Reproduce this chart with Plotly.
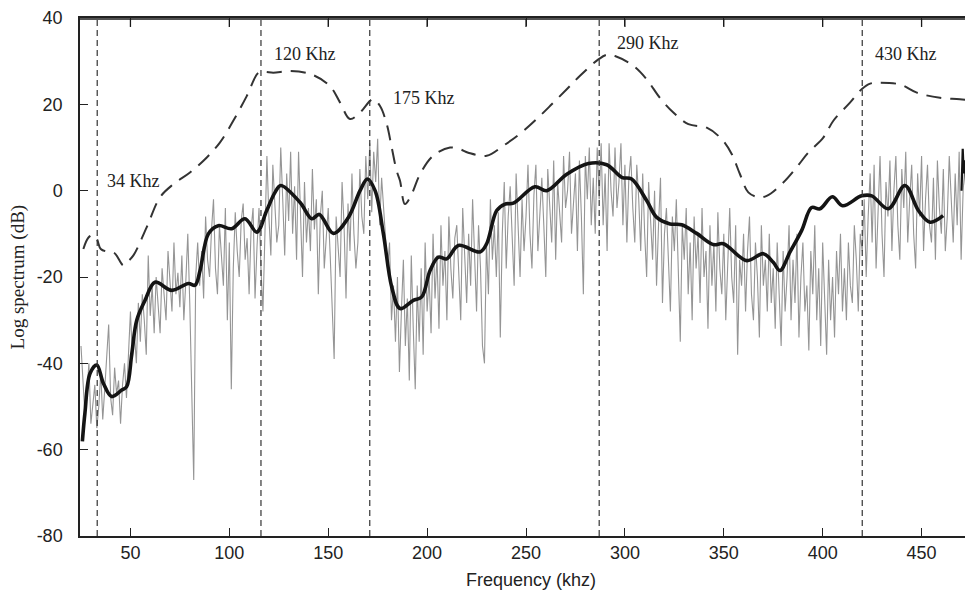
import plotly.graph_objects as go

# ---------------- data ----------------
# raw log spectrum, one value per kHz starting at 25 kHz
gray_db = [
    -36, -44, -52, -47, -40, -54, -49, -45, -55, -50,
    -42, -53, -46, -38, -31, -48, -52, -41, -47, -44,
    -54, -45, -40, -48, -36, -28, -39, -33, -40, -26,
    -35, -24, -30, -38, -15, -29, -22, -33, -20, -27,
    -33, -18, -25, -30, -14, -22, -28, -12, -24, -19,
    -27, -15, -30, -21, -10, -26, -45, -67, -20, -12,
    -22, -14, -25, -6, -16, -20, -9, -2, -18, -24,
    -8, -15, -22, -4, -30, -12, -46, -18, -5, -14,
    -20, -7, -3, -16, -11, -24, -9, -4, -25, -13,
    -4, -18, -28, -10, 8, -6, -15, 6, -3, -12,
    -8, 10, -2, -15, 4, -7, 9, -10, 1, -16,
    9, -5, -20, 2, -12, -4, -14, 5, -9, -2,
    -24, -6, 0, -18, -10, -4, -15, -28, -39, -6,
    -12, -20, 2, -8, -25, -3, -14, 4, -10, -18,
    -12, 5, -6, -10, 8, -2, 11, -5, 9, 2,
    12, -8, 3, -4, -10, -18, -12, -30, -22, -35,
    -20, -42, -28, -16, -36, -25, -44, -15, -32, -46,
    -22, -35, -18, -38, -12, -28, -20, -33, -10, -25,
    -15, -32, -8, -22, -14, -30, -6, -18, -25, -11,
    -8, -20, -30, -4, -16, -26, -10, -22, -2, -15,
    -28, -8, -18, -36, -40, -12, -24, -2, -16, -8,
    -20, -5, -34, -10, 2, -18, -6, 1, -12, -22,
    4, -8, -20, -2, -14, -6, 6, -10, -18, -1,
    6, -14, -4, 3, -8, -20, 5, -3, -12, 7,
    -16, 2, -6, -12, 8, -4, 0, 9, -10, -2,
    4, -14, 7, -6, -24, 8, -2, 10, -8, 3,
    -10, 10, -2, 11, -8, 4, -14, 11, 0, -6,
    10, -4, 2, 11, -8, 6, -12, 3, 8, -4,
    -12, 6, -2, -14, 4, -10, -20, 2, -6, -16,
    0, -22, -8, 3, -26, -10, -4, -18, -28, -6,
    -14, -2, -20, -35, -8, -16, -4, -24, -12, -30,
    -6, -18, -10, -26, -4, -20, -14, -32, -8, -22,
    -12, -28, -5, -18, -24, -10, -30, -14, -4, -20,
    -26, -8, -38, -16, -22, -10, -28, -14, -6, -24,
    -30, -12, -20, -34, -8, -22, -16, -28, -10, -26,
    -18, -32, -12, -24, -36, -14, -28, -20, -8, -30,
    -16, -26, -10, -34, -20, -12, -28, -22, -37, -14,
    -24, -8, -30, -18, -36, -12, -26, -38, -16, -30,
    -20, -34, -14, -24, -10, -28, -18, -30, -12, -22,
    -26, -8, -16, -28, -10, -14, -2, -20, -6, 4,
    -12, 6, -18, -4, 8, -10, -20, 2, -6, 7,
    -14, 0, 8, -8, -16, 5, -4, 9, -12, -2,
    6, -10, -18, 4, -6, 8, -14, -2, 6, -8,
    -12, 3, -16, 7, -4, -10, 5, -14, -6, 8,
    -2, -12, 4, -8, 9, -16, 0, 6, -10, 3,
    -6,
]
gray_start_khz = 25
gray_step_khz = 1

smooth_khz = [25.7, 27, 29.6, 33, 36.3, 40.5, 45.6, 48.1, 50.7, 53.2, 57.4, 62.4, 70.9,
              79.3, 82.7, 85.2, 89.4, 94.4, 101.2, 107.9, 113.9, 118.9, 123.1, 126, 135.7,
              141.7, 145.5, 152.6, 160.2, 166.1, 169.8, 173.7, 177.9, 182.1, 186.3, 193,
              197.3, 201.5, 205.7, 209.9, 215.8, 226.7, 230.1, 235.2, 239.4, 243.6, 254.5,
              260.5, 270.6, 281.5, 290.8, 298.4, 303.4, 311, 316.1, 322.8, 328.7, 336.3,
              344.7, 349.8, 361.6, 370, 375, 378.4, 383.5, 389.4, 394.4, 398.6, 404.9,
              410.1, 419.7, 424.8, 433.2, 441.6, 448.4, 454.3, 460.9]
smooth_db = [-58.1, -51.5, -42.3, -40.4, -44.6, -47.7, -46.2, -45.4, -37.7, -30, -25.4,
             -21.2, -23.1, -21.5, -21.9, -18.5, -10, -8.1, -8.8, -6.5, -9.6, -4.6, -0.4,
             1.2, -2.7, -6.5, -5.5, -9.9, -6.2, 0, 2.7, 0, -10, -22.3, -27.3, -25.4, -24.6,
             -18.5, -15.4, -15.8, -12.7, -14.2, -12.3, -4.6, -3.1, -2.9, 0.9, 0, 3.8, 6.3,
             6, 3.1, 2.7, -2.3, -6.2, -7.7, -7.9, -9.9, -12.5, -12.3, -16.2, -14.6, -16.6,
             -18.5, -14.2, -9.2, -3.9, -4.2, -1.4, -3.5, -1.2, -1.2, -4.2, 1.2, -4.6, -7.3,
             -5.8]

env_khz = [26.2, 28.7, 31, 33, 35, 38.8, 42, 46.4, 48.5, 51.5, 58.2, 65, 71.7, 80.1, 88.6,
           95.3, 102, 108.8, 114.7, 118, 122.2, 130.7, 141.7, 150.9, 156, 161, 166.1, 171.1,
           172.8, 176.2, 179.6, 182.1, 184.6, 186.3, 188.8, 192.2, 196.4, 203.1, 211.6,
           216.6, 220.8, 230.1, 238.5, 247.8, 255.4, 263, 270.6, 277.3, 286.6, 291, 295,
           304.3, 311, 317.7, 324.5, 332.1, 341.4, 349, 354, 358.2, 362.4, 367.4, 371.7,
           380.1, 386.8, 392.7, 400.3, 405.4, 413.8, 419.7, 424, 429, 439.1, 447.6, 459.3,
           469.4, 476]
env_db = [-13.5, -10.9, -10.3, -11.2, -13.5, -14.2, -14.5, -17.3, -16.5, -15, -8.5, -1.5,
          1.5, 4.2, 7.7, 11.2, 16.2, 21.9, 27.3, 27.5, 27.3, 27.7, 26.9, 24.2, 20.4, 16.6,
          18.1, 20.8, 21.2, 19.6, 15.4, 10, 4.6, 2.3, -3.1, -0.8, 3.8, 8.1, 10, 9.6, 8.8,
          8.1, 10.4, 13.5, 16.6, 20, 23.5, 26.6, 30.4, 31.5, 31.2, 28.9, 25.8, 21.5, 18.1,
          15.4, 14.6, 11.9, 8.5, 3.8, -0.4, -1.5, -1.2, 1.9, 5.4, 8.8, 12.3, 16.2, 20.4,
          23.5, 24.8, 25, 24.6, 22.7, 21.5, 21.2, 20.8]

edge_khz = [470.2, 470.8, 471.3, 472, 472.8, 473.5, 474.2, 475, 475.8]
edge_db = [0, 9.7, 4, 7, -2, 5, -20, -8, -18]

marker_khz = [33.2, 116, 171, 287, 420]
label_texts = ["34 Khz", "120 Khz", "175 Khz", "290 Khz", "430 Khz"]
label_khz = [37.2, 121.6, 181.7, 295, 425.4]
label_db = [2.3, 31.6, 21.5, 34.2, 31.6]

x_ticks = [50, 100, 150, 200, 250, 300, 350, 400, 450]
x_tick_labels = ["50", "100", "150", "200", "250", "300", "350", "400", "450"]
y_ticks = [-80, -60, -40, -20, 0, 20, 40]
y_tick_labels = ["-80", "-60", "-40", "-20", "0", "20", "40"]

# ---------------- figure ----------------
gray_khz = [gray_start_khz + gray_step_khz * i for i in range(len(gray_db))]

fig = go.Figure()
fig.add_trace(go.Scatter(x=gray_khz, y=gray_db, mode="lines",
                         line=dict(color="#959595", width=1.1), hoverinfo="skip"))
fig.add_trace(go.Scatter(x=env_khz, y=env_db, mode="lines", line_shape="spline",
                         line=dict(color="#333333", width=2, dash="15px,9px"), hoverinfo="skip"))
fig.add_trace(go.Scatter(x=smooth_khz, y=smooth_db, mode="lines", line_shape="spline",
                         line=dict(color="#141414", width=3.6), hoverinfo="skip"))
fig.add_trace(go.Scatter(x=edge_khz, y=edge_db, mode="lines",
                         line=dict(color="#141414", width=2.2), hoverinfo="skip"))
# invisible trace that anchors the top axis
fig.add_trace(go.Scatter(x=[x_ticks[0]], y=[y_ticks[0]], xaxis="x2", mode="markers",
                         marker=dict(opacity=0), hoverinfo="skip"))

for xv in marker_khz:
    fig.add_shape(type="line", xref="x", yref="paper", x0=xv, x1=xv, y0=0, y1=1,
                  line=dict(color="#333333", width=1.2, dash="6px,4px"))

# top frame line (slightly inside the plot edge) and its inward ticks
fig.add_shape(type="line", xref="paper", yref="paper", x0=0, x1=1, y0=0.998, y1=0.998,
              line=dict(color="#1a1a1a", width=1.6), layer="above")
for xv in x_ticks:
    fig.add_shape(type="line", xref="x", yref="paper", x0=xv, x1=xv, y0=0.998,
                  y1=1 - 9 / 520, line=dict(color="#1a1a1a", width=1.3), layer="above")

for t, xv, yv in zip(label_texts, label_khz, label_db):
    fig.add_annotation(x=xv, y=yv, text=t, showarrow=False, xanchor="left", yanchor="middle",
                       font=dict(family="Liberation Serif", size=18, color="#222222"))

fig.add_annotation(xref="paper", yref="paper", x=0.505, y=-0.0846, text="Frequency (khz)",
                   showarrow=False, xanchor="center", yanchor="middle",
                   font=dict(family="Liberation Sans", size=18, color="#222222"))
fig.add_annotation(xref="paper", yref="paper", x=-0.069, y=0.5, text="Log spectrum (dB)",
                   showarrow=False, textangle=-90, xanchor="center", yanchor="middle",
                   font=dict(family="Liberation Serif", size=19, color="#222222"))

axis_common = dict(ticks="inside", ticklen=8, showgrid=False, zeroline=False,
                   showline=True, linecolor="#222222", linewidth=1.5, tickcolor="#222222",
                   tickwidth=1.2, ticklabeloverflow="allow")

fig.update_layout(
    width=965, height=583,
    margin=dict(l=72, r=0, t=8, b=55),
    plot_bgcolor="white", paper_bgcolor="white",
    showlegend=False,
    xaxis=dict(range=[24.5, 476], tickvals=x_ticks, ticktext=x_tick_labels,
               ticklabelstandoff=0, mirror="ticks",
               tickfont=dict(family="Liberation Sans", size=18, color="#222222"),
               **axis_common),
    xaxis2=dict(range=[24.5, 476], overlaying="x", side="top", tickvals=x_ticks,
                showticklabels=False, **axis_common),
    yaxis=dict(range=[-80, 40], tickvals=y_ticks, ticktext=y_tick_labels,
               ticklabelstandoff=12,
               tickfont=dict(family="Liberation Sans", size=18, color="#222222"),
               **axis_common),
)

fig.write_html("out.html", config={"displayModeBar": False})
